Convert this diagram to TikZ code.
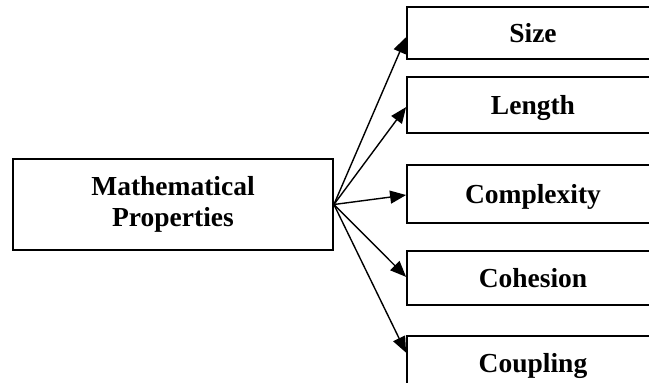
\documentclass[tikz,border=0pt]{standalone}
\usepackage{fontspec}
\setmainfont{Liberation Serif}
\usetikzlibrary{arrows.meta,calc}
\begin{document}
\begin{tikzpicture}[x=1pt,y=-1pt,
  box/.style={draw=black,line width=1.8pt,inner sep=0pt,minimum width=252pt,
    font=\fontsize{27.5}{31}\selectfont\bfseries,text height=18pt,text depth=0pt},
  mainbox/.style={draw=black,line width=1.8pt,inner sep=0pt,minimum width=320pt,minimum height=91pt,
    font=\fontsize{27.5}{31}\selectfont\bfseries,align=center},
  conn/.style={line width=1.4pt,-{Triangle[length=16pt,width=13pt]}}]
\clip (0,0) rectangle (649,383);
\fill[white] (0,0) rectangle (649,383);
\node[mainbox] (main) at (173,204.5) {Mathematical\\Properties};
\node[box,minimum height=52pt] (size) at (533,33) {Size};
\node[box,minimum height=56pt] (length) at (533,105) {Length};
\node[box,minimum height=58pt] (complexity) at (533,194) {Complexity};
\node[box,minimum height=54pt] (cohesion) at (533,278) {Cohesion};
\node[box,minimum height=55pt] (coupling) at (533,363.5) {Coupling};
\coordinate (tsize) at ($(size.north west)!0.577!(size.south west)$);
\coordinate (tlength) at ($(length.north west)!0.536!(length.south west)$);
\coordinate (tcomplexity) at ($(complexity.north west)!0.517!(complexity.south west)$);
\coordinate (tcohesion) at ($(cohesion.north west)!0.48!(cohesion.south west)$);
\coordinate (tcoupling) at ($(coupling.north west)!0.31!(coupling.south west)$);
\draw[conn] (main.east) -- (tsize);
\draw[conn] (main.east) -- (tlength);
\draw[conn] (main.east) -- (tcomplexity);
\draw[conn] (main.east) -- (tcohesion);
\draw[conn] (main.east) -- (tcoupling);
\end{tikzpicture}
\end{document}
